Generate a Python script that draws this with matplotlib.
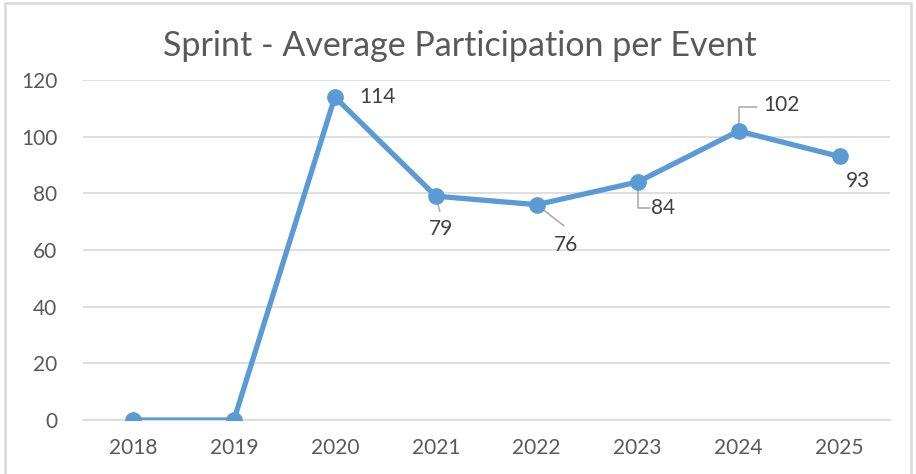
import matplotlib
matplotlib.use("Agg")
import matplotlib.pyplot as plt
from matplotlib.patches import Rectangle

plt.rcParams["font.family"] = ["Lato", "DejaVu Sans"]

years = ["2018", "2019", "2020", "2021", "2022", "2023", "2024", "2025"]
participation = [0, 0, 114, 79, 76, 84, 102, 93]
y_ticks = [0, 20, 40, 60, 80, 100, 120]

LINE_COLOR = "#5B9BD5"
TEXT_COLOR = "#595959"
LABEL_COLOR = "#404040"
GRID_COLOR = "#D9D9D9"
LEADER_COLOR = "#A6A6A6"

# label offsets in pixels (dx, dy) and leader style per point (None = no leader)
label_offsets = [None, None, (43, 0), (5, -33), (29, -40), (25, -26), (43, 26), (18, -25)]
leaders = [None, None, None,
           ((4, -15), "arc3"),
           ((27, -21), "arc3"),
           ((12, -26), "angle,angleA=0,angleB=90,rad=0"),
           ((18, 24), "angle,angleA=0,angleB=90,rad=0"),
           None]

fig = plt.figure(figsize=(9.16, 4.74), dpi=100)
ax = fig.add_axes([82.5 / 916, 1 - 420 / 474, (890 - 82.5) / 916, 340 / 474])

x = list(range(len(years)))
ax.plot(x, participation, color=LINE_COLOR, linewidth=3.8, marker="o",
        markersize=11, solid_joinstyle="round", zorder=3)

for i, v in enumerate(participation):
    if label_offsets[i] is None:
        continue
    if leaders[i] is not None:
        (lx, ly), style = leaders[i]
        ax.annotate("", xy=(i, v), xytext=(lx, ly), textcoords="offset pixels",
                    arrowprops=dict(arrowstyle="-", color=LEADER_COLOR, lw=1.1,
                                    shrinkA=0, shrinkB=0, connectionstyle=style),
                    zorder=2)
    dx, dy = label_offsets[i]
    ax.annotate(str(v), xy=(i, v), xytext=(dx, dy), textcoords="offset pixels",
                ha="center", va="center", fontsize=15, color=LABEL_COLOR)

ax.set_xlim(-0.5, len(years) - 0.5)
ax.set_ylim(0, 120)
ax.set_xticks(x)
ax.set_xticklabels(years)
ax.set_yticks(y_ticks)
ax.tick_params(axis="both", length=0, labelsize=15, labelcolor=TEXT_COLOR)
ax.tick_params(axis="y", pad=18)
ax.tick_params(axis="x", pad=13)
ax.grid(axis="y", color=GRID_COLOR, linewidth=1.2)
ax.set_axisbelow(True)
for side in ["top", "right", "left"]:
    ax.spines[side].set_visible(False)
ax.spines["bottom"].set_color(GRID_COLOR)
ax.spines["bottom"].set_linewidth(1.2)

fig.text(460 / 916, 1 - 46 / 474, "Sprint - Average Participation per Event",
         ha="center", va="center", fontsize=24.5, color=TEXT_COLOR)

# chart border
fig.patches.append(Rectangle((5 / 916, -0.05), 906 / 916, 1 - 3 / 474 + 0.05,
                             transform=fig.transFigure, fill=False,
                             edgecolor=GRID_COLOR, linewidth=1.8))

fig.savefig("out.png", dpi=100)
